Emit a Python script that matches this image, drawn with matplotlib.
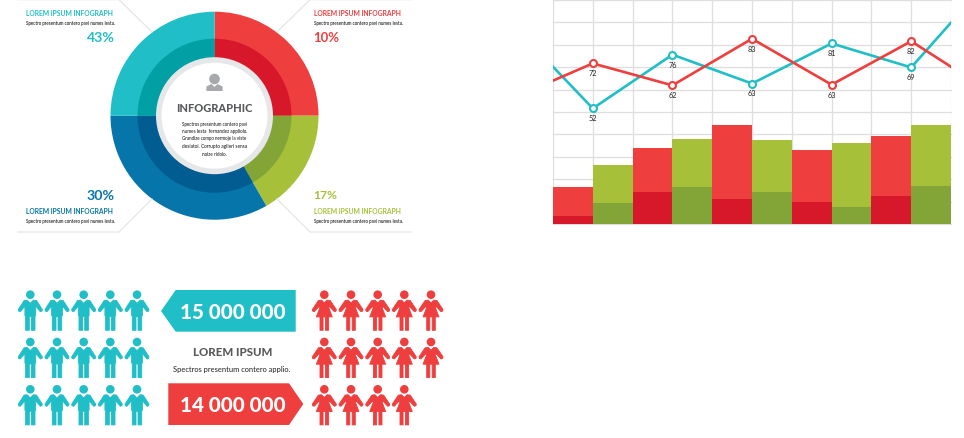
import matplotlib
matplotlib.use("Agg")
import matplotlib.pyplot as plt
from matplotlib.patches import Circle, Polygon
import numpy as np

W, H = 964, 439
plt.rcParams['font.family'] = ['Lato', 'Liberation Sans', 'DejaVu Sans']

# ---- data ----
pie_labels = ["10%", "17%", "30%", "43%"]
pie_spans = [25.0, 16.7, 33.3, 25.0]
pie_outer_colors = ["#ee3e3e", "#a6c139", "#0575aa", "#20bec6"]
pie_inner_colors = ["#d7182a", "#83a437", "#005c91", "#00a0a4"]
heading = "LOREM IPSUM INFOGRAPH"
subheading = "Spectro presentum contero pavi numes lesta."
center_title = "INFOGRAPHIC"
center_lines = ["Spectros presentum contero pavi", "numes lesta  fernandez appliolo.",
                "Grandize compo nermoje la viste", "desiatoi. Corrupto agileri sensa", "noize ridolo."]

line_x = [0, 1, 3, 5, 7, 9, 10]
teal_values = [70.2, 51.6, 75.6, 62.7, 80.6, 69.9, 89.9]
red_values = [64.0, 71.7, 61.9, 82.7, 62.2, 81.6, 70.2]
teal_labels = ["", "52", "76", "63", "81", "69", ""]
red_labels = ["", "72", "62", "83", "63", "82", ""]

bar_positions = [0.5, 1.5, 2.5, 3.5, 4.5, 5.5, 6.5, 7.5, 8.5, 9.5]
bar_totals = [16.4, 26.2, 33.8, 37.8, 44.0, 37.3, 32.9, 36.0, 39.1, 44.0]
bar_lowers = [3.6, 9.3, 14.2, 16.4, 11.1, 14.2, 9.8, 7.6, 12.4, 16.9]
bar_light = ["#ee3e3e", "#a6c139"] * 5
bar_dark = ["#d7182a", "#83a437"] * 5

men_count = 15
women_count = 14
men_label = "15 000 000"
women_label = "14 000 000"
mid_title = "LOREM IPSUM"
mid_sub = "Spectros presentum contero applio."

TEAL, RED, GREEN, BLUE = "#20bec6", "#ee3e3e", "#a6c139", "#0575aa"
GRID = "#dedede"


def frac_rect(l, t, r, b):
    return [l / W, 1 - b / H, (r - l) / W, (b - t) / H]


fig = plt.figure(figsize=(W / 100, H / 100), dpi=100, facecolor="white")
renderer = fig.canvas.get_renderer()

# ---- donut ----
cx, cy, R = 214.5, 116.7, 104.0
axp = fig.add_axes(frac_rect(cx - R, cy - R, cx + R, cy + R), zorder=1)
axp.pie(pie_spans, colors=pie_outer_colors, startangle=90, counterclock=False, radius=1.0)
axp.pie(pie_spans, colors=pie_inner_colors, startangle=90, counterclock=False, radius=77 / R)
axp.set_xlim(-1, 1)
axp.set_ylim(-1, 1)
axp.axis("off")

# ---- line and bar chart ----
axc = fig.add_axes(frac_rect(553, 1.0, 951, 225.0), zorder=1)
axc.set_xlim(0, 10)
axc.set_ylim(0, 100)
axc.set_xticks(range(0, 11))
axc.set_yticks(range(0, 101, 10))
axc.tick_params(length=0, labelbottom=False, labelleft=False)
axc.grid(True, color=GRID, lw=0.9)
axc.set_axisbelow(True)
for s in axc.spines.values():
    s.set_visible(False)
for gl in axc.get_ygridlines():
    gl.set_clip_on(False)
axc.bar(bar_positions, bar_totals, width=1.0, color=bar_light, zorder=2)
axc.bar(bar_positions, bar_lowers, width=1.0, color=bar_dark, zorder=3)
for vals, labs, col in ((teal_values, teal_labels, TEAL), (red_values, red_labels, RED)):
    axc.plot(line_x, vals, color=col, lw=1.9, marker="o", ms=5, mfc="white", mec=col, mew=1.5, zorder=4,
             markevery=[1, 2, 3, 4, 5])
    for x, v, lab in zip(line_x, vals, labs):
        if lab:
            axc.annotate(lab, (x, v), xytext=(0, -6.8), textcoords="offset points", ha="center",
                         va="center", fontsize=5.3, color="#222222", zorder=5)

# ---- overlay in pixel coordinates ----
ov = fig.add_axes([0, 0, 1, 1], zorder=2)
ov.set_xlim(0, W)
ov.set_ylim(H, 0)
ov.axis("off")
ov.patch.set_alpha(0)


def fit(x, y, s, width, ha="left", weight="normal", color="#333333"):
    t = ov.text(x, y, s, ha=ha, va="center", fontsize=10, fontweight=weight, color=color)
    t.set_fontsize(10 * width / t.get_window_extent(renderer).width)
    return t


for pts in ([(18, 0.7), (119, 0.7), (152, 33)], [(277, 33), (310, 0.7), (411, 0.7)],
            [(18, 233), (119, 233), (152, 200)], [(277, 200), (310, 233), (411, 233)]):
    xs, ys = zip(*pts)
    ov.plot(xs, ys, color="#e2e3e4", lw=0.8, zorder=1)

ov.add_patch(Circle((cx, cy), 58.5, color="#e6e7e8", lw=0))
ov.add_patch(Circle((cx, cy), 53.0, color="white", lw=0))
ov.add_patch(Circle((cx, 80), 5.3, color="#a7a9ac", lw=0))
ov.add_patch(Polygon([(206.4, 92), (206.4, 87.5), (211.5, 85), (214.5, 88), (217.5, 85), (222.6, 87.5), (222.6, 92)],
                     closed=True, color="#a7a9ac", lw=0))
fit(cx, 108.7, center_title, 75, ha="center", weight="black", color="#58595b")
for y, s, w in zip([124.3, 131.7, 139.0, 146.7, 154.3], center_lines, [66, 66, 65, 64, 25]):
    fit(cx, y, s, w, ha="center", weight="medium", color="#222222")

fit(114.7, 38, pie_labels[3], 28, ha="right", weight="bold", color=TEAL)
fit(114.7, 196, pie_labels[2], 28, ha="right", weight="bold", color=BLUE)
fit(313.5, 38, pie_labels[0], 26, weight="bold", color=RED)
fit(313.5, 196, pie_labels[1], 24, weight="bold", color=GREEN)
for x, hy, sy, col in ((26, 13, 23, TEAL), (313.5, 13, 23, RED), (26, 212, 222, BLUE), (313.5, 212, 222, GREEN)):
    fit(x, hy, heading, 88, weight="bold", color=col)
    fit(x, sy, subheading, 90, weight="medium", color="#111111")

# ---- pictograms ----
man = [(-3.2, 5.4), (0, 8.6), (3.2, 5.4), (6.2, 5.8), (12.0, 14.8), (11.7, 16.4), (10.0, 17.0), (5.4, 11.5), (5.4, 21),
       (4.7, 21.5), (4.7, 35.6), (1.0, 35.6), (1.0, 22), (-1.0, 22), (-1.0, 35.6), (-4.7, 35.6), (-4.7, 21.5), (-5.4, 21),
       (-5.4, 11.5), (-10.0, 17.0), (-11.7, 16.4), (-12.0, 14.8), (-6.2, 5.8)]
woman = [(-2.8, 5.4), (0, 8.2), (2.8, 5.4), (5.9, 5.8), (12.0, 14.8), (11.7, 16.4), (10.0, 17.0), (5.4, 12), (4.4, 13),
         (8.0, 22.2), (4.3, 22.2), (4.3, 35.6), (1.2, 35.6), (1.2, 22.2), (-1.2, 22.2), (-1.2, 35.6), (-4.3, 35.6),
         (-4.3, 22.2), (-8.0, 22.2), (-4.4, 13), (-5.4, 12), (-10.0, 17.0), (-11.7, 16.4), (-12.0, 14.8), (-5.9, 5.8)]
men_cols = [30.3, 57.0, 83.7, 110.3, 137.0]
women_cols = [324.3, 351.0, 377.7, 404.3, 431.0]
rows = [295.7, 343.0, 390.3]


def draw_people(count, cols, shape, color):
    arr = np.array(shape)
    for i in range(count):
        x = cols[i % 5]
        y = rows[i // 5]
        ov.add_patch(Circle((x, y), 4.3, color=color, lw=0))
        ov.add_patch(Polygon(arr + [x, y], closed=True, facecolor=color, edgecolor=color, lw=0.6, joinstyle="round"))


draw_people(men_count, men_cols, man, TEAL)
draw_people(women_count, women_cols, woman, RED)

ov.add_patch(Polygon([(161, 312), (175.7, 291), (295.7, 291), (295.7, 332.7), (175.7, 332.7)], closed=True, color=TEAL, lw=0))
ov.add_patch(Polygon([(168.3, 384.3), (289, 384.3), (303.3, 405), (289, 426), (168.3, 426)], closed=True, color=RED, lw=0))
fit(232.7, 312.3, men_label, 104, ha="center", weight="black", color="white")
fit(232.7, 405.5, women_label, 104, ha="center", weight="black", color="white")
fit(232.7, 352.3, mid_title, 78, ha="center", weight="black", color="#58595b")
fit(232.0, 370, mid_sub, 119, ha="center", weight="medium", color="#333333")

fig.savefig("out.png", dpi=100)
